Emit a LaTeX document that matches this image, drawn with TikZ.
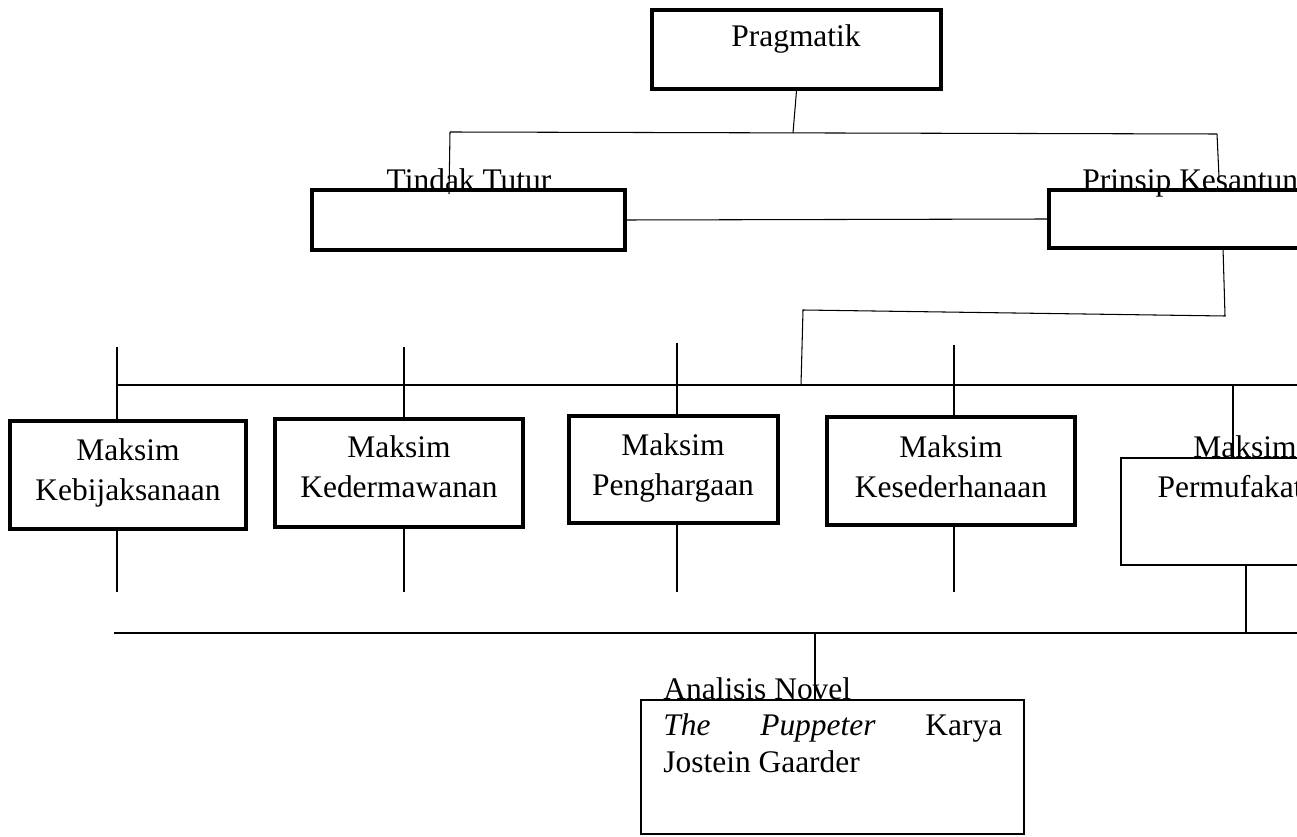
\documentclass[tikz,border=0pt]{standalone}
\usepackage{fontspec}
\setmainfont{Liberation Serif}
\tikzset{
    box/.style={draw, line width=1.9pt, inner sep=0pt},
    lbl/.style={font=\fontsize{17.9}{22.7}\selectfont, inner sep=0pt, align=center},
    thin/.style={line width=0.6pt},
    bar/.style={line width=1.2pt},
    stem/.style={line width=1.3pt}
}
\begin{document}
\begin{tikzpicture}[x=0.02cm, y=-0.02cm]
        \useasboundingbox (0,0) rectangle (1297,837);
        \clip (0,0) rectangle (1297,837);
        \node[box, minimum width=5.78cm, minimum height=1.58cm] (prag) at (796.5,49.5) {};
        \node[box, minimum width=6.26cm, minimum height=1.2cm] (tindak) at (468.5,220) {};
        \node[box, minimum width=6.26cm, minimum height=1.16cm] (prinsip) at (1205.5,219) {};
        \node[box, minimum width=4.72cm, minimum height=2.16cm] (m1) at (128,475) {};
        \node[box, minimum width=4.96cm, minimum height=2.16cm] (m2) at (399,473) {};
        \node[box, minimum width=4.18cm, minimum height=2.14cm] (m3) at (673.5,469.5) {};
        \node[box, minimum width=4.96cm, minimum height=2.16cm] (m4) at (951,471) {};
        \node[box, line width=1.4pt, minimum width=4.96cm, minimum height=2.14cm] (m5) at (1245,511.5) {};
        \node[box, line width=1.4pt, minimum width=7.66cm, minimum height=2.68cm] (novel) at (832.5,767) {};
        \node[lbl, anchor=base] (lprag) at (796,47) {Pragmatik};
        \node[lbl, anchor=base] (ltindak) at (469,191) {Tindak Tutur};
        \node[lbl, anchor=base] (lprinsip) at (1205,191) {Prinsip Kesantunan};
        \node[lbl, anchor=base] (lm1) at (128,500) {Maksim\\Kebijaksanaan};
        \node[lbl, anchor=base] (lm2) at (399,497) {Maksim\\Kedermawanan};
        \node[lbl, anchor=base] (lm3) at (673,495) {Maksim\\Penghargaan};
        \node[lbl, anchor=base] (lm4) at (951,497) {Maksim\\Kesederhanaan};
        \node[lbl, anchor=base] (lm5) at (1245,497) {Maksim\\Permufakatan};
        \node[lbl, align=left, anchor=base west, font=\fontsize{17.9}{20.7}\selectfont] (lnovel) at (663,772)
            {Analisis Novel\\\makebox[6.78cm][s]{\textit{The} \textit{Puppeter} Karya}\\Jostein Gaarder};
        \coordinate (j1) at (793,133);
        \coordinate (tl) at (450,132);
        \coordinate (tr) at (1217,134);
        \coordinate (tlb) at (449,194);
        \coordinate (trb) at (1219,177);
        \draw[thin] (prag.south) -- (j1);
        \draw[thin] (tl) -- (tr);
        \draw[thin] (tl) -- (tlb);
        \draw[thin] (tr) -- (trb);
        \draw[thin] (tindak.east) -- (prinsip.west);
        \coordinate (ps) at (1223,248);
        \coordinate (pr) at (1225,316);
        \coordinate (pl) at (803,310);
        \coordinate (pb) at (801,385);
        \draw[thin] (ps) -- (pr) -- (pl) -- (pb);
        \coordinate (bl) at (117,385);
        \coordinate (br) at (1320,385);
        \draw[bar] (bl) -- (br);
        \foreach \x/\t/\n in {117/347/m1, 404/347/m2, 677/343/m3, 954/345/m4}{
            \coordinate (s\n) at (\x,\t);
            \draw[stem] (s\n) -- (s\n |- \n.north);
            \draw[stem] (s\n |- \n.south) -- (\x,592);
        }
        \coordinate (s5) at (1233,385);
        \draw[thin] (s5) -- (s5 |- m5.north);
        \coordinate (s6) at (1246,633);
        \draw[thin] (s6 |- m5.south) -- (s6);
        \coordinate (cl) at (114,633);
        \coordinate (cr) at (1320,633);
        \draw[bar] (cl) -- (cr);
        \coordinate (s7) at (815,633);
        \draw[thin] (s7) -- (s7 |- novel.north);
\end{tikzpicture}
\end{document}
